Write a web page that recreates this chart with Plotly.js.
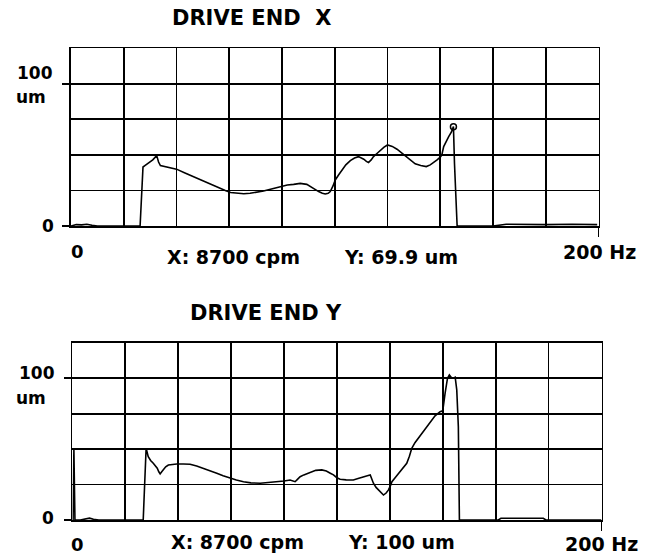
<!DOCTYPE html>
<html>
<head>
<meta charset="utf-8">
<script src="https://cdn.plot.ly/plotly-3.0.1.min.js"></script>
<style>html,body{margin:0;padding:0;background:#fff;}#chart{width:649px;height:555px;}</style>
</head>
<body>
<div id="chart"></div>
<script>
// ---- DATA ----
const titleTop = "DRIVE END\u00a0 X";
const titleBottom = "DRIVE END Y";
const cursorLabelX = "X: 8700 cpm";
const cursorLabelTop = "Y: 69.9 um";
const cursorLabelBottom = "Y: 100 um";
const yTickLabel = "100";
const yUnitLabel = "um";
const xStartLabel = "0";
const xEndLabel = "200 Hz";

const freqX = [0,1,2,4,6,8,10,26.2,26.8,27.3,28.0,29.5,31.0,32.5,33.2,33.9,36,40,43,46.4,49.5,52.8,55.5,58.5,60.5,62.9,65.5,67.9,70.5,73,76,79.3,82,84.4,86.9,89.4,90.7,92.5,93.9,95.3,96.4,97.5,98.3,99.3,100.2,101.5,102.7,104.2,105.9,107.5,109,110,111,112,112.8,113.8,114.7,116,117.3,118.7,120,121.8,123.6,125.2,126.8,128.6,130.5,132.6,134.7,136.2,137.5,138.8,140,140.6,141.3,142.2,143.2,144.2,145,145.4,146.4,150,160,165,170,175,180,190,199.5];
const ampX  = [0,0.5,1.0,0.8,1.2,0.5,0,0,30,41.5,42.5,44.5,46.5,49.5,45,42.5,41.8,40,37.5,34.7,32,29.6,27.2,24.9,23.6,23,22.7,23,23.6,24.6,26,27.7,28.8,29.3,30,29.3,27.7,25.5,24.2,23,22.5,23,24.2,28,32.4,36,39.4,43,46,47.8,48.8,48,47,45.5,44.6,46.5,48.8,51,53.5,55.5,57,56,54,51.5,48.8,46,43.7,42.5,41.8,43,44.6,46.5,48.4,50,55.9,59.5,62.9,66,69.9,44,0,0,0,1.2,1.0,1.3,1.0,1.2,1.0];

const freqY = [0,0.3,0.6,1.0,3,5,6.5,8,10,26.8,27.3,27.9,28.7,29.6,30.6,31.4,32.1,32.7,33.2,33.8,34.4,35.3,36.3,38,39.5,42,44.5,47,49.5,52,54.6,57,59.6,62,64.7,67.5,71,74,77.3,80,82.3,83.3,84.2,85,86.1,87.5,89.2,90.5,92,94.3,96,97.5,98.7,100,101.2,103.5,106.2,108,110,111.5,112.6,113.2,113.8,114.8,115.7,116.7,117.6,118.6,119.5,120.2,120.8,122.3,123.9,125.2,126.4,127.4,128.3,129.5,130.8,131.4,132.5,134,135.5,137.1,139,140,140.9,141.8,142.5,143.4,144,144.7,145.3,145.9,146.3,150,161,162,170,178,179,200];
const ampY  = [0,0,50,0,0,1,1.3,0.5,0,0,25,50.6,44.7,42,40,38.5,36.5,34,32.5,34,35.8,37.5,38.8,39.3,39.5,39.5,39.3,38,36.5,34.8,33,31.2,29.4,28.2,27,26.2,25.9,26.3,27,27.5,28.2,27.8,27,28.5,30.5,31.8,33,34,35,35.3,34.5,33,31.8,29.8,28.7,28.3,28.2,29.2,30.6,31.2,31.8,29,25.9,23,21.2,19,17.6,19,21.2,24,27,30.5,34.1,37,40,45,50.6,54.5,57.7,60,62.5,65.8,69.5,73.4,76.4,77,89.4,100,102.3,100.2,100,100.7,91.7,65.8,0,0,0,1.2,1.3,1.2,0,0];

const cursorFreq = [145];
const cursorAmpTop = [69.9];

const xRange = [0, 200];
const yRange = [0, 125];
const xGridStep = 20;
const yGridStep = 25;
const yMajorTicks = [0, 100];
const xMajorTicks = [200];

// ---- LAYOUT HELPERS ----
const W = 649, H = 555;
const px = v => v / W;
const py = v => 1 - v / H;
const FONT = 'DejaVu Sans';
const ink = '#000';
const GW = 1.8;

function xAxis(domain, anchor) {
  return {
    domain: domain, anchor: anchor, range: xRange, fixedrange: true,
    showline: true, mirror: true, linecolor: ink, linewidth: 1.8,
    tickvals: xMajorTicks, ticks: 'outside', ticklen: 9, tickcolor: ink, tickwidth: 1.5,
    showticklabels: false, showgrid: true, gridcolor: ink, gridwidth: GW, zeroline: false,
    minor: { dtick: xGridStep, tick0: 0, showgrid: true, gridcolor: ink, gridwidth: GW, ticks: '' }
  };
}
function yAxis(domain, anchor) {
  return {
    domain: domain, anchor: anchor, range: yRange, fixedrange: true,
    showline: true, mirror: true, linecolor: ink, linewidth: 1.8,
    tickvals: yMajorTicks, ticks: 'outside', ticklen: 7, tickcolor: ink, tickwidth: 1.5,
    showticklabels: false, showgrid: true, gridcolor: ink, gridwidth: GW, zeroline: false,
    minor: { dtick: yGridStep, tick0: 0, showgrid: true, gridcolor: ink, gridwidth: GW, ticks: '' }
  };
}
function ann(text, x, y, size, xanchor) {
  return { text: text, xref: 'paper', yref: 'paper', x: px(x), y: py(y),
    xanchor: xanchor || 'center', yanchor: 'middle', showarrow: false,
    font: { family: FONT, size: size, color: '#000', weight: 'bold' } };
}

const traces = [
  { x: freqX, y: ampX, xaxis: 'x', yaxis: 'y', type: 'scatter', mode: 'lines',
    line: { color: '#000', width: 1.6 }, hoverinfo: 'skip' },
  { x: cursorFreq, y: cursorAmpTop, xaxis: 'x', yaxis: 'y', type: 'scatter', mode: 'markers',
    marker: { symbol: 'circle-open', size: 6, color: '#000', line: { width: 1.5, color: '#000' } }, hoverinfo: 'skip' },
  { x: freqY, y: ampY, xaxis: 'x2', yaxis: 'y2', type: 'scatter', mode: 'lines',
    line: { color: '#000', width: 1.6 }, hoverinfo: 'skip' }
];

const layout = {
  width: W, height: H, margin: { l: 0, r: 0, t: 0, b: 0 },
  paper_bgcolor: '#fff', plot_bgcolor: '#fff', showlegend: false,
  xaxis: xAxis([px(71), px(598.5)], 'y'),
  yaxis: yAxis([py(226), py(48.3)], 'x'),
  xaxis2: xAxis([px(72.3), px(601.5)], 'y2'),
  yaxis2: yAxis([py(520), py(342.7)], 'x2'),
  annotations: [
    ann(titleTop, 252.2, 17.7, 21),
    ann(yTickLabel, 15, 73.3, 17, 'left'),
    ann(yUnitLabel, 13.5, 97.5, 17, 'left'),
    ann('0', 48, 226, 17),
    ann(xStartLabel, 77, 251, 18),
    ann(cursorLabelX, 233.3, 257.2, 19),
    ann(cursorLabelTop, 401.3, 257.2, 19),
    ann(xEndLabel, 599.2, 251.7, 19),

    ann(titleBottom, 265.6, 313.3, 21),
    ann(yTickLabel, 16.7, 373.3, 17, 'left'),
    ann(yUnitLabel, 13.5, 397.5, 17, 'left'),
    ann('0', 48, 518, 17),
    ann(xStartLabel, 77.7, 544, 18),
    ann(cursorLabelX, 237.4, 541.7, 19),
    ann(cursorLabelBottom, 401, 541.5, 19),
    ann(xEndLabel, 601, 544, 19)
  ]
};

Plotly.newPlot('chart', traces, layout, { staticPlot: true, displayModeBar: false });
</script>
</body>
</html>
